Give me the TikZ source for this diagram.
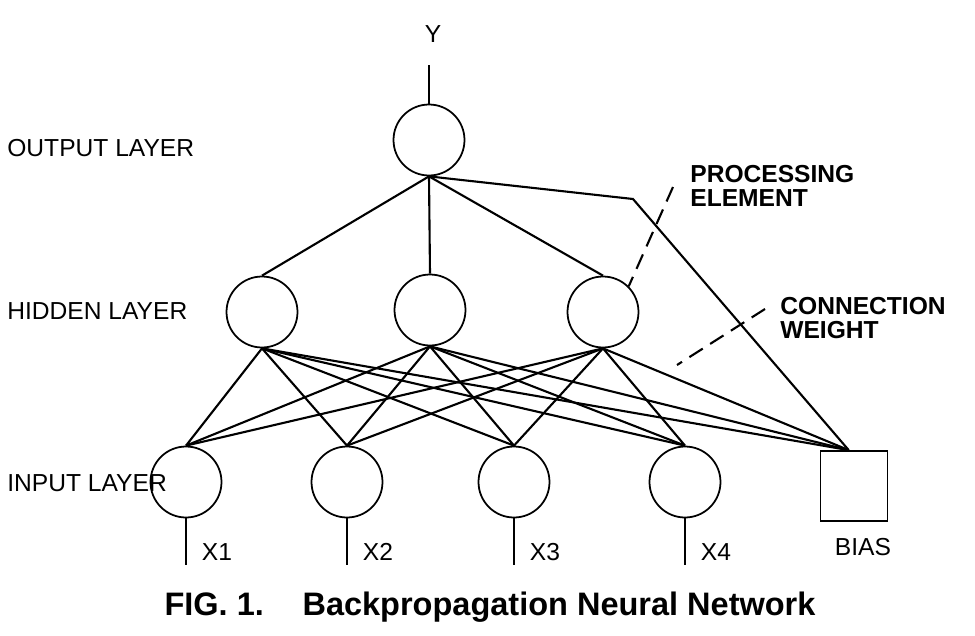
\documentclass[tikz,border=0pt]{standalone}
\usepackage{fontspec}
\setmainfont{Liberation Sans}
\usetikzlibrary{positioning}

\begin{document}
\begin{tikzpicture}[x=0.02cm,y=-0.02cm,
  neuron/.style={draw,circle,line width=1pt,minimum size=1.42cm,inner sep=0pt},
  biasbox/.style={draw,rectangle,line width=1pt,minimum width=1.34cm,minimum height=1.4cm,inner sep=0pt},
  link/.style={line width=1.2pt},
  leader/.style={line width=1.2pt,dash pattern=on 9pt off 5pt},
  lbl/.style={font=\fontsize{14}{14}\selectfont,inner sep=0pt},
  tag/.style={font=\fontsize{14}{13.5}\selectfont\bfseries,align=left,inner sep=0pt}]
  \useasboundingbox (0,0) rectangle (975,636);

  % processing elements
  \node[neuron] (out) at (429,140) {};
  \node[neuron] (h1) at (262,312) {};
  \node[neuron] (h2) at (430,310) {};
  \node[neuron] (h3) at (603,312) {};
  \foreach \i/\x in {1/186,2/347,3/514,4/685}
    \node[neuron] (i\i) at (\x,482) {};
  \node[biasbox] (bias) at (854,486) {};
  \coordinate (btop) at ([xshift=-3pt]bias.north);

  % output line and label
  \node[lbl] (ylab) at (433,34) {Y};
  \coordinate (ytop) at (429,65);
  \draw[link] (ytop) -- (out.north);

  % weights
  \foreach \h in {1,2,3} {
    \draw[link] (out.south) -- (h\h.north);
    \foreach \i in {1,...,4}
      \draw[link] (h\h.south) -- (i\i.north);
    \draw[link] (h\h.south) -- (btop);
  }
  \coordinate (bend) at (633,199);
  \draw[link] (out.south) -- (bend) -- (btop);

  % inputs
  \foreach \i/\x in {1/186,2/347,3/514,4/685} {
    \coordinate (x\i end) at (\x,565);
    \draw[link] (i\i.south) -- (x\i end);
    \node[lbl] (xlab\i) at (\x+31,552) {X\i};
  }
  \node[lbl] (biaslab) at (863,547) {BIAS};

  % layer names
  \node[lbl,anchor=west] (outlab) at (7,148) {OUTPUT LAYER};
  \node[lbl,anchor=west] (hidlab) at (7,311) {HIDDEN LAYER};
  \node[lbl,anchor=west] (inlab) at (7,483) {INPUT LAYER};

  % callouts
  \node[tag,anchor=north west] (pelab) at (690,165) {PROCESSING\\ELEMENT};
  \coordinate (pe) at (673,187);
  \draw[leader] (pe) -- (h3.north east);
  \node[tag,anchor=north west] (cwlab) at (780,297) {CONNECTION\\WEIGHT};
  \coordinate (cwa) at (765,309);
  \coordinate (cwb) at (677,365);
  \draw[leader] (cwa) -- (cwb);

  \node[font=\fontsize{18.5}{21}\selectfont\bfseries] (cap) at (490,607)
    {FIG.\ 1.\hspace{22pt}Backpropagation Neural Network};
\end{tikzpicture}
\end{document}
